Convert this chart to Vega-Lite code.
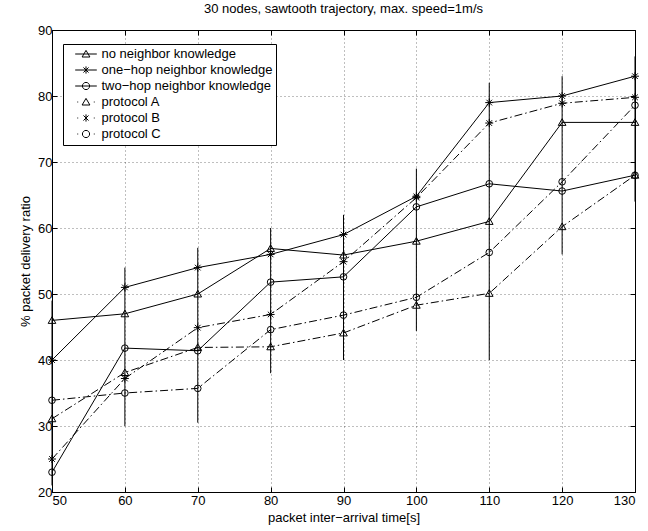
{
  "$schema": "https://vega.github.io/schema/vega-lite/v6.json",
  "width": 583,
  "height": 462,
  "autosize": {"type": "none"},
  "padding": {"left": 52, "top": 30, "right": 13, "bottom": 39},
  "background": "white",
  "title": {"text": "30 nodes, sawtooth trajectory, max. speed=1m/s", "fontSize": 13, "font": "Liberation Sans", "fontWeight": "normal", "color": "black", "offset": 8},
  "config": {
    "view": {"stroke": "black", "strokeWidth": 1},
    "axis": {
      "labelFont": "Liberation Sans", "titleFont": "Liberation Sans",
      "labelFontSize": 13, "titleFontSize": 13, "titleFontWeight": "normal",
      "labelColor": "black", "titleColor": "black",
      "domainColor": "black", "tickColor": "black",
      "gridColor": "black", "gridDash": [1, 3], "gridOpacity": 0.5,
      "tickSize": -5, "labelPadding": 5
    }
  },
  "datasets": {
    "series": [
      {"t": 50, "pdr": 46, "s": "no neighbor knowledge"},
      {"t": 60, "pdr": 47, "s": "no neighbor knowledge"},
      {"t": 70, "pdr": 50, "s": "no neighbor knowledge"},
      {"t": 80, "pdr": 56.9, "s": "no neighbor knowledge"},
      {"t": 90, "pdr": 55.9, "s": "no neighbor knowledge"},
      {"t": 100, "pdr": 58, "s": "no neighbor knowledge"},
      {"t": 110, "pdr": 61, "s": "no neighbor knowledge"},
      {"t": 120, "pdr": 76, "s": "no neighbor knowledge"},
      {"t": 130, "pdr": 76, "s": "no neighbor knowledge"},
      {"t": 50, "pdr": 40, "s": "one−hop neighbor knowledge"},
      {"t": 60, "pdr": 51, "s": "one−hop neighbor knowledge"},
      {"t": 70, "pdr": 54, "s": "one−hop neighbor knowledge"},
      {"t": 80, "pdr": 56, "s": "one−hop neighbor knowledge"},
      {"t": 90, "pdr": 59, "s": "one−hop neighbor knowledge"},
      {"t": 100, "pdr": 64.8, "s": "one−hop neighbor knowledge"},
      {"t": 110, "pdr": 79, "s": "one−hop neighbor knowledge"},
      {"t": 120, "pdr": 80, "s": "one−hop neighbor knowledge"},
      {"t": 130, "pdr": 83, "s": "one−hop neighbor knowledge"},
      {"t": 50, "pdr": 23, "s": "two−hop neighbor knowledge"},
      {"t": 60, "pdr": 41.8, "s": "two−hop neighbor knowledge"},
      {"t": 70, "pdr": 41.4, "s": "two−hop neighbor knowledge"},
      {"t": 80, "pdr": 51.8, "s": "two−hop neighbor knowledge"},
      {"t": 90, "pdr": 52.6, "s": "two−hop neighbor knowledge"},
      {"t": 100, "pdr": 63.2, "s": "two−hop neighbor knowledge"},
      {"t": 110, "pdr": 66.7, "s": "two−hop neighbor knowledge"},
      {"t": 120, "pdr": 65.6, "s": "two−hop neighbor knowledge"},
      {"t": 130, "pdr": 68, "s": "two−hop neighbor knowledge"},
      {"t": 50, "pdr": 31.1, "s": "protocol A"},
      {"t": 60, "pdr": 38.1, "s": "protocol A"},
      {"t": 70, "pdr": 41.9, "s": "protocol A"},
      {"t": 80, "pdr": 42, "s": "protocol A"},
      {"t": 90, "pdr": 44.1, "s": "protocol A"},
      {"t": 100, "pdr": 48.3, "s": "protocol A"},
      {"t": 110, "pdr": 50.1, "s": "protocol A"},
      {"t": 120, "pdr": 60.2, "s": "protocol A"},
      {"t": 130, "pdr": 68, "s": "protocol A"},
      {"t": 50, "pdr": 25, "s": "protocol B"},
      {"t": 60, "pdr": 37.2, "s": "protocol B"},
      {"t": 70, "pdr": 44.9, "s": "protocol B"},
      {"t": 80, "pdr": 46.9, "s": "protocol B"},
      {"t": 90, "pdr": 54.9, "s": "protocol B"},
      {"t": 100, "pdr": 64.6, "s": "protocol B"},
      {"t": 110, "pdr": 75.9, "s": "protocol B"},
      {"t": 120, "pdr": 78.9, "s": "protocol B"},
      {"t": 130, "pdr": 79.8, "s": "protocol B"},
      {"t": 50, "pdr": 33.9, "s": "protocol C"},
      {"t": 60, "pdr": 35, "s": "protocol C"},
      {"t": 70, "pdr": 35.7, "s": "protocol C"},
      {"t": 80, "pdr": 44.6, "s": "protocol C"},
      {"t": 90, "pdr": 46.8, "s": "protocol C"},
      {"t": 100, "pdr": 49.5, "s": "protocol C"},
      {"t": 110, "pdr": 56.3, "s": "protocol C"},
      {"t": 120, "pdr": 67, "s": "protocol C"},
      {"t": 130, "pdr": 78.6, "s": "protocol C"}
    ],
    "err": [
      {"t": 50, "lo": 21, "hi": 49},
      {"t": 60, "lo": 30, "hi": 54},
      {"t": 70, "lo": 30.5, "hi": 57},
      {"t": 80, "lo": 38, "hi": 60},
      {"t": 90, "lo": 40, "hi": 62},
      {"t": 100, "lo": 44.4, "hi": 69},
      {"t": 110, "lo": 40, "hi": 82},
      {"t": 120, "lo": 56, "hi": 83},
      {"t": 130, "lo": 64, "hi": 86}
    ]
  },
  "layer": [
    {
      "data": {"name": "err"},
      "mark": {"type": "rule", "color": "black", "strokeWidth": 1},
      "encoding": {
        "x": {"field": "t", "type": "quantitative", "scale": {"domain": [50, 130], "nice": false},
              "axis": {"orient": "bottom", "values": [50, 60, 70, 80, 90, 100, 110, 120, 130], "title": "packet inter−arrival time[s]", "grid": true, "labelPadding": 7, "titlePadding": 4}},
        "y": {"field": "lo", "type": "quantitative", "scale": {"domain": [20, 90], "nice": false},
              "axis": {"orient": "left", "values": [20, 30, 40, 50, 60, 70, 80, 90], "title": "% packet delivery ratio", "grid": true, "labelPadding": 5, "titlePadding": 5}},
        "y2": {"field": "hi"}
      }
    },
    {
      "data": {"name": "series"},
      "transform": [{"filter": {"not": {"field": "s", "oneOf": ["protocol A", "protocol B", "protocol C"]}}}],
      "mark": {"type": "line", "color": "black", "strokeWidth": 1},
      "encoding": {
        "x": {"field": "t", "type": "quantitative", "axis": {"orient": "top", "labels": false, "title": null, "grid": false, "values": [50, 60, 70, 80, 90, 100, 110, 120, 130], "domain": false}},
        "y": {"field": "pdr", "type": "quantitative", "axis": {"orient": "right", "labels": false, "title": null, "grid": false, "values": [20, 30, 40, 50, 60, 70, 80, 90], "domain": false}},
        "detail": {"field": "s", "type": "nominal"}
      }
    },
    {
      "data": {"name": "series"},
      "transform": [{"filter": {"field": "s", "oneOf": ["protocol A", "protocol B", "protocol C"]}}],
      "mark": {"type": "line", "color": "black", "strokeWidth": 1, "strokeDash": [8, 3, 1.5, 3]},
      "encoding": {
        "x": {"field": "t", "type": "quantitative", "axis": null},
        "y": {"field": "pdr", "type": "quantitative", "axis": null},
        "detail": {"field": "s", "type": "nominal"}
      }
    },
    {
      "data": {"name": "series"},
      "mark": {"type": "point", "color": "black", "filled": false, "strokeWidth": 1, "size": 44, "opacity": 1},
      "encoding": {
        "x": {"field": "t", "type": "quantitative", "axis": null},
        "y": {"field": "pdr", "type": "quantitative", "axis": null},
        "shape": {"field": "s", "type": "nominal",
          "scale": {"domain": ["no neighbor knowledge", "one−hop neighbor knowledge", "two−hop neighbor knowledge", "protocol A", "protocol B", "protocol C"],
                    "range": ["M0,-1.1L1.15,0.9L-1.15,0.9Z", "M-1.2,0L1.2,0M0,-1.2L0,1.2M-0.85,-0.85L0.85,0.85M-0.85,0.85L0.85,-0.85", "circle", "M0,-1.1L1.15,0.9L-1.15,0.9Z", "M-1.2,0L1.2,0M0,-1.2L0,1.2M-0.85,-0.85L0.85,0.85M-0.85,0.85L0.85,-0.85", "circle"]},
          "legend": null}
      }
    },
    {
      "data": {"name": "series"},
      "transform": [{"filter": "datum.t > 1000"}],
      "mark": {"type": "point", "color": "black", "filled": false, "strokeWidth": 1, "opacity": 1},
      "encoding": {
        "x": {"field": "t", "type": "quantitative", "axis": null},
        "y": {"field": "pdr", "type": "quantitative", "axis": null},
        "shape": {"field": "s", "type": "nominal",
          "scale": {"domain": ["no neighbor knowledge", "one−hop neighbor knowledge", "two−hop neighbor knowledge", "protocol A", "protocol B", "protocol C"],
                    "range": [
                      "M-3.6,0L3.6,0M0,-1.2L1.3,1L-1.3,1Z",
                      "M-3.6,0L3.6,0M0,-1.2L0,1.2M-0.85,-0.85L0.85,0.85M-0.85,0.85L0.85,-0.85",
                      "M-3.6,0L3.6,0M1.2,0A1.2,1.2,0,1,1,-1.2,0A1.2,1.2,0,1,1,1.2,0",
                      "M-2.9,0L-2.6,0M2.6,0L2.9,0M0,-1.2L1.3,1L-1.3,1Z",
                      "M-2.9,0L-2.6,0M2.6,0L2.9,0M0,-1.2L0,1.2M-0.85,-0.85L0.85,0.85M-0.85,0.85L0.85,-0.85",
                      "M-2.9,0L-2.6,0M2.6,0L2.9,0M1.2,0A1.2,1.2,0,1,1,-1.2,0A1.2,1.2,0,1,1,1.2,0"
                    ]},
          "legend": {
            "orient": "none", "legendX": 11, "legendY": 14, "title": null,
            "symbolSize": 36, "symbolOffset": 13, "labelOffset": 9,
            "padding": 3.5, "rowPadding": 2,
            "strokeColor": "black", "fillColor": "white", "cornerRadius": 0,
            "labelFont": "Liberation Sans", "labelFontSize": 13, "labelColor": "black", "labelLimit": 300,
            "symbolStrokeColor": "black", "symbolStrokeWidth": 1, "symbolFillColor": "transparent"
          }}
      }
    }
  ],
  "resolve": {"axis": {"x": "independent", "y": "independent"}, "scale": {"shape": "independent"}, "legend": {"shape": "independent"}}
}
